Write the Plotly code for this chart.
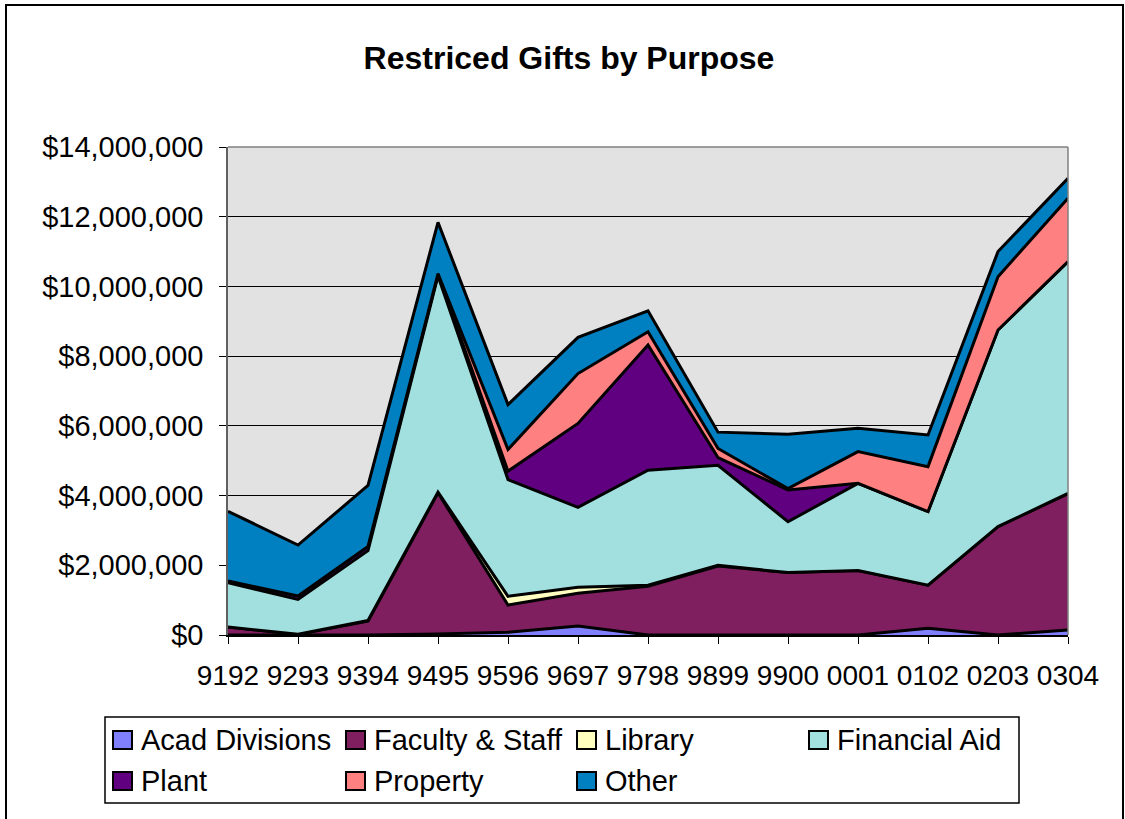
import plotly.graph_objects as go

# Fiscal years (category labels)
years = ['9192', '9293', '9394', '9495', '9596', '9697', '9798',
         '9899', '9900', '0001', '0102', '0203', '0304']

# Gift amounts by purpose, in millions of dollars
acad_divisions = [0.0, 0.0, 0.0, 0.03, 0.08, 0.26, 0.0, 0.0, 0.0, 0.0, 0.19, 0.0, 0.14]
faculty_staff = [0.23, 0.02, 0.40, 4.05, 0.78, 0.94, 1.40, 1.98, 1.79, 1.85, 1.24, 3.11, 3.92]
library = [0.0, 0.0, 0.02, 0.02, 0.25, 0.17, 0.03, 0.02, 0.0, 0.0, 0.0, 0.0, 0.0]
financial_aid = [1.27, 1.00, 2.00, 6.20, 3.35, 2.29, 3.30, 2.87, 1.46, 2.50, 2.11, 5.64, 6.65]
plant = [0.05, 0.10, 0.12, 0.05, 0.24, 2.41, 3.59, 0.22, 0.91, 0.0, 0.0, 0.0, 0.0]
property_gifts = [0.0, 0.0, 0.0, 0.02, 0.62, 1.43, 0.38, 0.26, 0.04, 0.91, 1.29, 1.53, 1.82]
other = [2.00, 1.46, 1.75, 1.47, 1.29, 1.04, 0.60, 0.47, 1.56, 0.67, 0.91, 0.72, 0.57]

series = [
    ('Acad Divisions', acad_divisions, '#8080FF'),
    ('Faculty & Staff', faculty_staff, '#7F1F5F'),
    ('Library', library, '#FFFFC0'),
    ('Financial Aid', financial_aid, '#A2E0E0'),
    ('Plant', plant, '#600080'),
    ('Property', property_gifts, '#FF8080'),
    ('Other', other, '#0080C0'),
]

fig = go.Figure()

# Stacked areas
for name, vals, color in series:
    fig.add_trace(go.Scatter(
        x=years, y=[v * 1e6 for v in vals], name=name,
        mode='lines', stackgroup='gifts', fillcolor=color,
        line=dict(color='black', width=3),
    ))

font_family = 'Liberation Sans, Arial, sans-serif'

W, H = 1125, 819
L, T = 228, 147
PW, PH = 840, 488


def px_x(x):
    return (x - L) / PW


def px_y(y):
    return (T + PH - y) / PH


fig.update_layout(
    width=W, height=H,
    margin=dict(l=L, r=W - L - PW, t=T, b=H - T - PH),
    paper_bgcolor='white',
    plot_bgcolor='#E2E2E2',
    showlegend=False,
    font=dict(family=font_family, size=28, color='black'),
    title=dict(text='<b>Restriced Gifts by Purpose</b>',
               x=569 / W, xref='container', y=1 - 58 / H, yref='container',
               xanchor='center', yanchor='middle',
               font=dict(size=32, color='black')),
    xaxis=dict(type='category', range=[0, len(years) - 1],
               showgrid=False, showline=True, linecolor='black', linewidth=1.5,
               ticks='outside', ticklen=7, tickcolor='black',
               ticklabelstandoff=8, tickfont=dict(size=28),
               mirror=False, zeroline=False),
    yaxis=dict(range=[0, 14e6], dtick=2e6, tickprefix='$', tickformat=',d',
               showgrid=True, gridcolor='black', gridwidth=1,
               showline=True, linecolor='#606060', linewidth=1.5,
               ticks='outside', ticklen=7, tickcolor='black',
               ticklabelstandoff=10, tickfont=dict(size=29),
               zeroline=False),
)

# Right and top border of the plot area
fig.add_shape(type='line', xref='paper', yref='paper', x0=1, x1=1, y0=0, y1=1,
              line=dict(color='#808080', width=1.5))
fig.add_shape(type='line', xref='paper', yref='paper', x0=0, x1=1, y0=1, y1=1,
              line=dict(color='#808080', width=1.5))

# Outer chart frame
fig.add_shape(type='rect', xref='paper', yref='paper',
              x0=px_x(6), x1=px_x(1123), y0=px_y(830), y1=px_y(5),
              line=dict(color='black', width=2), fillcolor='rgba(0,0,0,0)',
              layer='below')

# Legend box drawn by hand (Excel-style layout: 4 columns, 2 rows)
fig.add_shape(type='rect', xref='paper', yref='paper',
              x0=px_x(105), x1=px_x(1019), y0=px_y(803), y1=px_y(717),
              line=dict(color='black', width=1.5), fillcolor='white')
col_x = [113, 346, 577, 809]
row_y = [740, 781]
for i, (name, vals, color) in enumerate(series):
    cx = col_x[i % 4]
    cy = row_y[i // 4]
    fig.add_shape(type='rect', xref='paper', yref='paper',
                  x0=px_x(cx), x1=px_x(cx + 19), y0=px_y(cy + 9), y1=px_y(cy - 9),
                  line=dict(color='black', width=2), fillcolor=color)
    fig.add_annotation(x=px_x(cx + 26), y=px_y(cy), xref='paper', yref='paper',
                       text=name, showarrow=False, xanchor='left', yanchor='middle',
                       font=dict(size=29, color='black'))

# remove the default page margin so the figure sits at the window's corner
fig.write_html('out.html', config={'displayModeBar': False},
               post_script="document.body.style.margin='0';")
